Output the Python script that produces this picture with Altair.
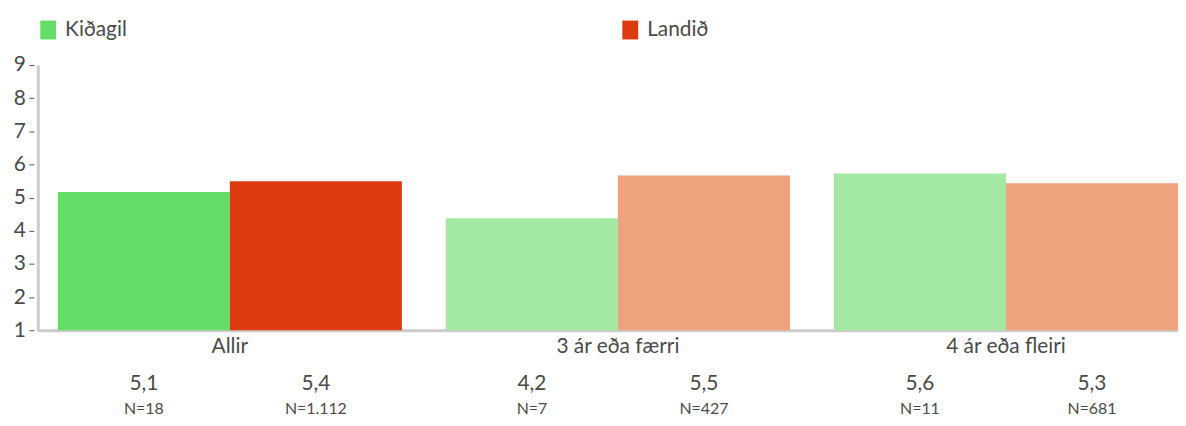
import altair as alt
import pandas as pd

groups = ["Allir", "Allir", "3 ár eða færri", "3 ár eða færri", "4 ár eða fleiri", "4 ár eða fleiri"]
series = ["Kiðagil", "Landið", "Kiðagil", "Landið", "Kiðagil", "Landið"]
bar_heights = [5.17, 5.49, 4.38, 5.67, 5.73, 5.43]
bar_fills = ["#66DD66", "#DE3A12", "#A3E9A3", "#EEA27D", "#A3E9A3", "#EEA27D"]
mean_labels = ["5,1", "5,4", "4,2", "5,5", "5,6", "5,3"]
n_labels = ["N=18", "N=1.112", "N=7", "N=427", "N=11", "N=681"]
group_order = ["Allir", "3 ár eða færri", "4 ár eða fleiri"]
series_order = ["Kiðagil", "Landið"]
series_colors = ["#66DD66", "#DE3A12"]
y_ticks = [1, 2, 3, 4, 5, 6, 7, 8, 9]

df = pd.DataFrame({
    "group": groups,
    "series": series,
    "value": bar_heights,
    "fill": bar_fills,
    "mean": mean_labels,
    "n": n_labels,
})

W = 1148
H = 267
FONT = "Lato"
TXT = "#4a4a4a"

x_scale = alt.Scale(paddingInner=0.1134, paddingOuter=0.0258, align=1.0)
x_enc = alt.X(
    "group:N",
    sort=group_order,
    title=None,
    scale=x_scale,
    axis=alt.Axis(
        labelAngle=0, labelFontSize=21, labelColor=TXT, labelFont=FONT,
        ticks=False, labelPadding=5, domainColor="#cccccc", domainWidth=3,
    ),
)
xoff = alt.XOffset("series:N", sort=series_order, scale=alt.Scale(paddingInner=0, paddingOuter=0))

y_enc = alt.Y(
    "value:Q",
    title=None,
    scale=alt.Scale(domain=[1, 9], nice=False, zero=False),
    axis=alt.Axis(
        values=y_ticks, grid=False, labelFontSize=21, labelColor=TXT, labelFont=FONT,
        tickSize=9, tickDash=[0, 4, 5, 20], tickColor="#555555", tickWidth=1,
        labelPadding=3.5, domainColor="#cccccc", domainWidth=3,
    ),
)

bars = alt.Chart(df).mark_bar(stroke=None).encode(
    x=x_enc,
    xOffset=xoff,
    y=y_enc,
    y2=alt.datum(1),
    color=alt.Color("fill:N", scale=None),
)

legend_layer = alt.Chart(df).mark_point(opacity=0, size=0, filled=True).encode(
    x=alt.value(0),
    y=alt.value(0),
    fill=alt.Fill(
        "series:N",
        sort=series_order,
        scale=alt.Scale(domain=series_order, range=series_colors),
        legend=alt.Legend(
            title=None, orient="none", legendX=0, legendY=-46, direction="horizontal",
            columns=2, columnPadding=496, labelFontSize=21, labelColor=TXT, labelFont=FONT,
            symbolType="M-0.84,-1h1.68v2h-1.68z", symbolSize=361, symbolStrokeWidth=0,
            symbolOpacity=1, labelOffset=6.5, padding=0,
        ),
    ),
)

means = alt.Chart(df).mark_text(
    fontSize=21, font=FONT, color=TXT, baseline="middle", align="center"
).encode(
    x=alt.X("group:N", sort=group_order),
    xOffset=xoff,
    y=alt.value(H + 54),
    text="mean:N",
)

ns = alt.Chart(df).mark_text(
    fontSize=16, font=FONT, color=TXT, baseline="middle", align="center"
).encode(
    x=alt.X("group:N", sort=group_order),
    xOffset=xoff,
    y=alt.value(H + 79),
    text="n:N",
)

chart = alt.layer(bars, legend_layer, means, ns).properties(
    width=W, height=H,
    autosize=alt.AutoSizeParams(type="none"),
    padding={"left": 30, "top": 56, "right": 0, "bottom": 87},
).configure(font=FONT).configure_view(stroke=None)

chart.save("out.html", embed_options={"renderer": "svg", "actions": False})
